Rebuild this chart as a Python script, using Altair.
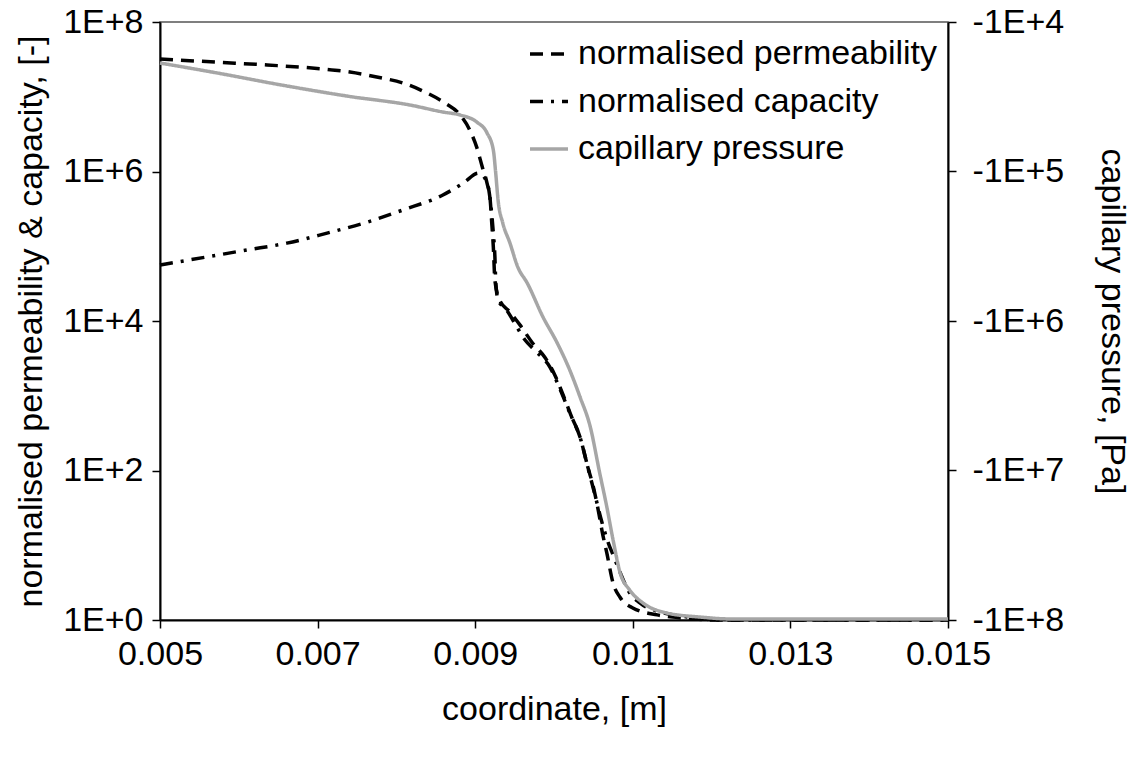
import altair as alt
import pandas as pd

# ---------------- data ----------------
perm_x = [0.00500, 0.00572, 0.00636, 0.00707, 0.00741, 0.00775, 0.00808, 0.00839, 0.00862,
          0.00881, 0.00893, 0.00902, 0.00909, 0.00915, 0.00919, 0.00921, 0.00923, 0.00925,
          0.00931, 0.00944, 0.00957, 0.00972, 0.00989, 0.01001, 0.01014, 0.01023, 0.01033,
          0.01043, 0.01050, 0.01056, 0.01062, 0.01067, 0.01075, 0.01084, 0.01100, 0.01131,
          0.01164, 0.01207, 0.01500]
perm_y = [3.2e7, 2.9e7, 2.66e7, 2.35e7, 2.14e7, 1.84e7, 1.53e7, 1.12e7, 8.2e6,
          5.7e6, 3.6e6, 2.1e6, 1.15e6, 7.0e5, 4.2e5, 2.05e5, 9.8e4, 3.5e4,
          1.9e4, 1.32e4, 8.8e3, 5.2e3, 3.2e3, 1.9e3, 8.8e2, 5.0e2, 2.8e2,
          1.1e2, 60, 30, 13.7, 7.9, 3.1, 2.0, 1.45, 1.17,
          1.06, 1.0, 1.0]

cap_x = [0.00500, 0.00610, 0.00661, 0.00712, 0.00763, 0.00808, 0.00859, 0.00885, 0.00904,
         0.00915, 0.00919, 0.00923, 0.00925, 0.00926, 0.00929, 0.00940, 0.00950, 0.00963,
         0.00978, 0.00995, 0.01008, 0.01020, 0.01033, 0.01043, 0.01052, 0.01061, 0.01069,
         0.01075, 0.01084, 0.01094, 0.01109, 0.01135, 0.01169, 0.01211, 0.01500]
cap_y = [5.6e4, 8.9e4, 1.1e5, 1.5e5, 2.1e5, 3.05e5, 4.85e5, 7.0e5, 9.5e5,
         7.2e5, 4.2e5, 1.5e5, 7.2e4, 3.5e4, 1.9e4, 1.4e4, 9.4e3, 5.6e3,
         3.85e3, 2.4e3, 1.2e3, 5.9e2, 2.8e2, 1.1e2, 47, 20, 10.7,
         7.4, 4.3, 2.5, 1.69, 1.28, 1.1, 1.0, 1.0]

pc_x = [0.00500, 0.00572, 0.00656, 0.00741, 0.00817, 0.00859, 0.00881, 0.00902, 0.00915,
        0.00923, 0.00926, 0.00929, 0.00935, 0.00944, 0.00954, 0.00966, 0.00986, 0.01004,
        0.01020, 0.01033, 0.01046, 0.01058, 0.01067, 0.01075, 0.01084, 0.01096, 0.01113,
        0.01143, 0.01185, 0.01227, 0.01500]
pc_y = [-1.88e4, -2.19e4, -2.65e4, -3.15e4, -3.59e4, -4.0e4, -4.19e4, -4.67e4, -5.52e4,
        -7.18e4, -1.02e5, -1.55e5, -2.21e5, -3.0e5, -4.35e5, -5.57e5, -9.4e5, -1.4e6,
        -2.13e6, -3.22e6, -5.1e6, -1.04e7, -1.75e7, -2.92e7, -4.85e7, -6.3e7, -7.7e7,
        -8.98e7, -9.55e7, -9.85e7, -9.85e7]

series_names = ["normalised permeability", "normalised capacity", "capillary pressure"]
series_colors = ["#000000", "#000000", "#A6A6A6"]
series_dashes = [[13, 8], [13, 8, 3, 8], [1, 0]]

x_ticks = [0.005, 0.007, 0.009, 0.011, 0.013, 0.015]
left_ticks = [1, 1e2, 1e4, 1e6, 1e8]
left_labels = ["1E+0", "1E+2", "1E+4", "1E+6", "1E+8"]
right_ticks = [1e4, 1e5, 1e6, 1e7, 1e8]
right_labels = ["-1E+4", "-1E+5", "-1E+6", "-1E+7", "-1E+8"]

FONT = "Liberation Sans"
FS = 34


def label_expr(vals, labels):
    expr = "''"
    for v, l in zip(vals, labels):
        expr = f"abs(datum.value / {v!r} - 1) < 0.001 ? '{l}' : ({expr})"
    return expr


df_left = pd.DataFrame({
    "x": perm_x + cap_x,
    "value": perm_y + cap_y,
    "series": [series_names[0]] * len(perm_x) + [series_names[1]] * len(cap_x),
    "order": list(range(len(perm_x))) + list(range(len(cap_x))),
})
df_right = pd.DataFrame({
    "x": pc_x,
    "pc": pc_y,
    "series": [series_names[2]] * len(pc_x),
    "order": list(range(len(pc_x))),
})

legend = alt.Legend(
    title=None, orient="none", legendX=368, legendY=15,
    symbolType="stroke", symbolSize=1444, symbolStrokeWidth=3.5,
    labelFont=FONT, labelFontSize=FS, labelColor="#000000", labelLimit=0,
    labelOffset=8, clipHeight=34, rowPadding=13.5, padding=0,
)
color_scale = alt.Scale(domain=series_names, range=series_colors)
dash_scale = alt.Scale(domain=series_names, range=series_dashes)

x_enc = alt.X(
    "x:Q",
    scale=alt.Scale(domain=[0.005, 0.015], nice=False, zero=False),
    axis=alt.Axis(values=x_ticks, format=".3f", title="coordinate, [m]",
                  labelPadding=9, titlePadding=21, grid=False),
)

left = alt.Chart(df_left).mark_line(strokeWidth=3.5, interpolate="monotone").encode(
    x=x_enc,
    y=alt.Y("value:Q",
            scale=alt.Scale(type="log", domain=[1, 1e8], nice=False),
            axis=alt.Axis(orient="left", values=left_ticks,
                          labelExpr=label_expr(left_ticks, left_labels),
                          title="normalised permeability & capacity, [-]",
                          labelPadding=9, titlePadding=14, grid=False)),
    color=alt.Color("series:N", scale=color_scale, legend=legend, sort=series_names),
    strokeDash=alt.StrokeDash("series:N", scale=dash_scale, legend=legend, sort=series_names),
    order="order:Q",
)

right = alt.Chart(df_right).transform_calculate(abs_pc="-datum.pc").mark_line(
    strokeWidth=3.5, interpolate="monotone"
).encode(
    x=x_enc,
    y=alt.Y("abs_pc:Q",
            scale=alt.Scale(type="log", domain=[1e4, 1e8], reverse=True, nice=False),
            axis=alt.Axis(orient="right", values=right_ticks,
                          labelExpr=label_expr(right_ticks, right_labels),
                          title="capillary pressure, [Pa]",
                          labelPadding=16, titlePadding=31, grid=False)),
    color=alt.Color("series:N", scale=color_scale, legend=legend, sort=series_names),
    strokeDash=alt.StrokeDash("series:N", scale=dash_scale, legend=legend, sort=series_names),
    order="order:Q",
)

chart = alt.layer(left, right).resolve_scale(y="independent").properties(
    width=788, height=598,
    autosize=alt.AutoSizeParams(type="none"),
    padding={"left": 160, "top": 22, "right": 184, "bottom": 138},
    background="#ffffff",
).configure_view(
    stroke="#555555", strokeWidth=1.5
).configure_axis(
    labelFont=FONT, labelFontSize=FS, labelColor="#000000",
    titleFont=FONT, titleFontSize=FS, titleColor="#000000", titleFontWeight="normal",
    domainColor="#000000", domainWidth=2,
    tickColor="#000000", tickWidth=1.5, tickSize=8,
    labelFlush=False, labelOverlap=False,
)

chart.save("out.html", embed_options={"renderer": "svg", "actions": False})
